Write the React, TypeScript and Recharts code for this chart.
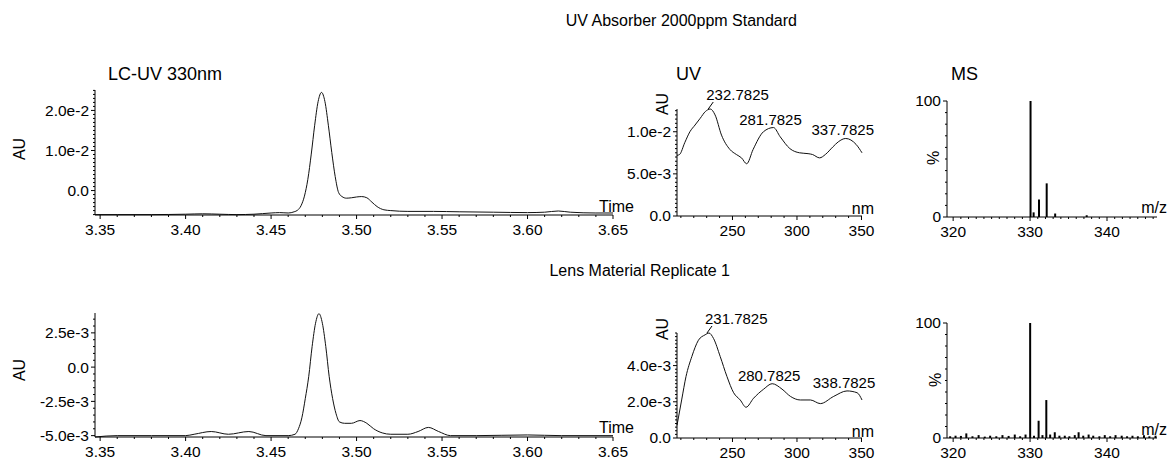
import React from "react";
import { LineChart, Line, BarChart, Bar, XAxis, YAxis } from "recharts";

// LC-UV 330nm, standard
const lcStdTime = [3.347, 3.36, 3.38, 3.4, 3.41, 3.42, 3.43, 3.44, 3.45, 3.455, 3.46, 3.4635, 3.4655, 3.4675, 3.4695, 3.4715, 3.4735, 3.4755, 3.4775, 3.4795, 3.4815, 3.4835, 3.4855, 3.4875, 3.4895, 3.4915, 3.494, 3.497, 3.5, 3.503, 3.506, 3.509, 3.512, 3.516, 3.52, 3.53, 3.545, 3.56, 3.58, 3.6, 3.61, 3.618, 3.625, 3.64, 3.65];
const lcStdAU = [-0.006, -0.006, -0.006, -0.0059, -0.0058, -0.0059, -0.006, -0.0059, -0.0056, -0.0055, -0.0056, -0.0053, -0.0049, -0.0038, -0.0014, 0.0028, 0.0091, 0.0163, 0.0222, 0.0245, 0.0222, 0.0163, 0.0095, 0.0035, -0.0005, -0.0015, -0.0019, -0.0018, -0.0016, -0.0015, -0.0018, -0.0029, -0.004, -0.0048, -0.005, -0.0052, -0.0052, -0.0053, -0.0054, -0.0055, -0.0054, -0.0051, -0.0054, -0.0056, -0.0056];

// LC-UV 330nm, lens replicate 1
const lcLensTime = [3.347, 3.36, 3.38, 3.4, 3.405, 3.415, 3.425, 3.437, 3.447, 3.46, 3.464, 3.466, 3.468, 3.47, 3.472, 3.474, 3.476, 3.478, 3.48, 3.482, 3.484, 3.486, 3.488, 3.49, 3.493, 3.497, 3.502, 3.506, 3.51, 3.515, 3.52, 3.53, 3.536, 3.542, 3.548, 3.555, 3.57, 3.6, 3.62, 3.65];
const lcLensAU = [-0.0051, -0.005, -0.005, -0.005, -0.0049, -0.0047, -0.0049, -0.0047, -0.005, -0.005, -0.0049, -0.0045, -0.0037, -0.0023, -0.0007, 0.0015, 0.0032, 0.0039, 0.0032, 0.0015, -0.0007, -0.0023, -0.0034, -0.004, -0.0041, -0.0041, -0.0039, -0.0041, -0.0045, -0.0048, -0.0049, -0.0049, -0.0047, -0.0044, -0.0047, -0.005, -0.005, -0.00495, -0.005, -0.005];

// UV spectra
const uvStdNm = [207, 209, 213, 217, 221, 225, 229, 232.7825, 236.5, 241.5, 248, 253, 257, 261, 266, 274, 281.7825, 287, 294.5, 302, 308.6, 312, 317.5, 322, 327.8, 332, 337.7825, 345.8, 350.4];
const uvStdAU = [0.0072, 0.0073, 0.0087, 0.01, 0.0108, 0.0116, 0.0124, 0.0127, 0.012, 0.0096, 0.0079, 0.0073, 0.0069, 0.0062, 0.0079, 0.01, 0.0105, 0.0094, 0.008, 0.0075, 0.0074, 0.0073, 0.0069, 0.0073, 0.0082, 0.0088, 0.0092, 0.0085, 0.0075];
const uvStdPeaks = [232.7825, 281.7825, 337.7825];

const uvLensNm = [207, 210.6, 214, 218.5, 223.6, 228.8, 231.7825, 235.3, 240.5, 245.7, 250.9, 256, 260.5, 266.4, 274.2, 280.7825, 288.4, 294.9, 302.6, 310.4, 318.1, 328.5, 338.7825, 346.6, 350.4];
const uvLensAU = [0.0007, 0.0021, 0.0034, 0.0045, 0.0054, 0.0057, 0.0058, 0.0055, 0.0045, 0.0034, 0.0025, 0.0021, 0.0017, 0.0022, 0.0027, 0.003, 0.0027, 0.0023, 0.0021, 0.0021, 0.0019, 0.0023, 0.0026, 0.0025, 0.0021];
const uvLensPeaks = [231.7825, 280.7825, 338.7825];

// MS spectra
const msStdMz = [330.0, 330.4, 331.1, 332.1, 333.2, 337.3];
const msStdPct = [100, 4, 15, 29, 3, 1.5];

const msLensMz = [319.6, 320.3, 321, 321.7, 322.5, 323.3, 324.1, 324.8, 325.6, 326.4, 327.2, 328, 328.7, 329.4, 330.0, 330.5, 331.1, 331.6, 332.1, 332.6, 333.2, 333.8, 334.5, 335.1, 335.8, 336.3, 336.9, 337.6, 338.2, 339, 339.7, 340.4, 341.1, 341.9, 342.6, 343.3, 344, 344.8, 345.5, 346.3];
const msLensPct = [1.5, 2, 1.8, 4, 1.5, 2.5, 1.2, 2, 1.5, 2.5, 1.8, 3, 1.5, 3, 100, 2, 15, 2.5, 33, 3, 5, 2, 2, 1.5, 2.5, 5, 2, 3, 2, 1.5, 2.5, 1.5, 2.5, 2, 1.5, 2, 1.5, 2.5, 1.5, 2];

// tick labels
const lcTimeTicks = [3.35, 3.4, 3.45, 3.5, 3.55, 3.6, 3.65];
const lcStdTicks = [0, 0.01, 0.02];
const lcLensTicks = [-0.005, -0.0025, 0, 0.0025];
const uvNmTicks = [250, 300, 350];
const uvStdTicks = [0, 0.005, 0.01];
const uvLensTicks = [0, 0.002, 0.004];
const mzTicks = [320, 330, 340];
const pctTicks = [0, 100];

const FONT = "Arial, 'Liberation Sans', Helvetica, sans-serif";
const YW = 70;
const XH = 30;
const MT = 30;
const MR = 40;

type Pt = { x: number; y: number };
const zip = (xs: number[], ys: number[]): Pt[] => xs.map((x, i) => ({ x, y: ys[i] }));

const steps = (a: number, b: number, s: number) => {
  const out: number[] = [];
  for (let k = Math.ceil(a / s - 1e-9); k * s <= b + 1e-9; k++) out.push(parseFloat((k * s).toFixed(10)));
  return out;
};
const near = (list: number[], v: number) => list.some((m) => Math.abs(m - v) < 1e-9);

const fixed2 = (v: number) => v.toFixed(2);
const expo = (v: number) => (Math.abs(v) < 1e-12 ? "0.0" : v.toExponential(1));
const plain = (v: number) => String(Math.round(v));

type PanelProps = {
  rect: [number, number, number, number];
  data: Pt[];
  kind: "line" | "bar";
  xDomain: [number, number];
  yDomain: [number, number];
  xMajor: number[];
  xMinor: number;
  yMajor: number[];
  yMinor: number;
  xFmt: (v: number) => string;
  yFmt: (v: number) => string;
  peaks?: number[];
};

function Panel(p: PanelProps) {
  const [x0, y0, x1, y1] = p.rect;
  const w = x1 - x0;
  const h = y1 - y0;
  const width = w + YW + MR;
  const height = h + MT + XH;
  const axisY = MT + h;
  const axisX = YW;

  const xTicks = steps(p.xDomain[0], p.xDomain[1], p.xMinor);
  const yTicks = steps(p.yDomain[0], p.yDomain[1], p.yMinor);

  const xTick = (t: any) => {
    const v = t.payload.value;
    const major = near(p.xMajor, v);
    return (
      <g key={`xt${t.index}`}>
        <line x1={t.x} x2={t.x} y1={axisY} y2={axisY + (major ? 4 : 2)} stroke="#000" />
        {major && (
          <text x={t.x} y={axisY + 19.5} textAnchor="middle" fontSize={15.5} fill="#000" fontFamily={FONT}>
            {p.xFmt(v)}
          </text>
        )}
      </g>
    );
  };
  const yTick = (t: any) => {
    const v = t.payload.value;
    const major = near(p.yMajor, v);
    return (
      <g key={`yt${t.index}`}>
        <line x1={axisX} x2={axisX - (major ? 4 : 2)} y1={t.y} y2={t.y} stroke="#000" />
        {major && (
          <text x={axisX - 6} y={t.y} dy="0.35em" textAnchor="end" fontSize={15.5} fill="#000" fontFamily={FONT}>
            {p.yFmt(v)}
          </text>
        )}
      </g>
    );
  };

  const peakDot = (d: any) => {
    const { cx, cy, payload, index } = d;
    const k = p.peaks ? p.peaks.findIndex((v) => Math.abs(v - payload.x) < 1e-6) : -1;
    if (k < 0) return <g key={`d${index}`} />;
    const label = payload.x.toFixed(4);
    if (k === 0)
      return (
        <g key={`d${index}`}>
          <line x1={cx - 2} y1={cy} x2={cx + 3} y2={cy - 7} stroke="#000" />
          <text x={cx - 4} y={cy - 9} fontSize={15} fill="#000" fontFamily={FONT}>
            {label}
          </text>
        </g>
      );
    return (
      <text key={`d${index}`} x={cx - 3} y={cy - 3} textAnchor="middle" fontSize={15} fill="#000" fontFamily={FONT}>
        {label}
      </text>
    );
  };

  const xAxis = (
    <XAxis
      type="number"
      dataKey="x"
      domain={p.xDomain}
      ticks={xTicks}
      interval={0}
      tick={xTick}
      tickLine={false}
      axisLine={{ stroke: "#000" }}
      height={XH}
    />
  );
  const yAxis = (
    <YAxis
      type="number"
      domain={p.yDomain}
      ticks={yTicks}
      interval={0}
      tick={yTick}
      tickLine={false}
      axisLine={{ stroke: "#000" }}
      width={YW}
    />
  );
  const margin = { top: MT, right: MR, bottom: 0, left: 0 };

  return (
    <div style={{ position: "absolute", left: x0 - YW, top: y0 - MT }}>
      {p.kind === "line" ? (
        <LineChart width={width} height={height} data={p.data} margin={margin}>
          {xAxis}
          {yAxis}
          <Line
            type="monotone"
            dataKey="y"
            stroke="#111"
            strokeWidth={1}
            dot={p.peaks ? peakDot : false}
            activeDot={false}
            isAnimationActive={false}
          />
        </LineChart>
      ) : (
        <BarChart width={width} height={height} data={p.data} margin={margin}>
          {xAxis}
          {yAxis}
          <Bar dataKey="y" fill="#000" barSize={2} isAnimationActive={false} />
        </BarChart>
      )}
    </div>
  );
}

const T = (props: any) => <text fontFamily={FONT} fill="#000" {...props} />;

export default function App() {
  return (
    <div
      style={{
        position: "absolute",
        left: 0,
        top: 0,
        width: 1171,
        height: 459,
        background: "#fff",
        fontFamily: FONT,
        overflow: "hidden",
      }}
    >
      <Panel rect={[95, 90, 613, 215]} data={zip(lcStdTime, lcStdAU)} kind="line" xDomain={[3.347, 3.65]} yDomain={[-0.0061, 0.0251]} xMajor={lcTimeTicks} xMinor={0.01} yMajor={lcStdTicks} yMinor={0.001} xFmt={fixed2} yFmt={expo} />
      <Panel rect={[677, 109, 862, 216]} data={zip(uvStdNm, uvStdAU)} kind="line" xDomain={[207, 350.4]} yDomain={[0, 0.0127]} xMajor={uvNmTicks} xMinor={10} yMajor={uvStdTicks} yMinor={0.0005} xFmt={plain} yFmt={expo} peaks={uvStdPeaks} />
      <Panel rect={[947, 101, 1157, 217]} data={zip(msStdMz, msStdPct)} kind="bar" xDomain={[319.2, 346.5]} yDomain={[0, 100]} xMajor={mzTicks} xMinor={1} yMajor={pctTicks} yMinor={10} xFmt={plain} yFmt={plain} />

      <Panel rect={[95, 313, 613, 437]} data={zip(lcLensTime, lcLensAU)} kind="line" xDomain={[3.347, 3.65]} yDomain={[-0.0051, 0.00395]} xMajor={lcTimeTicks} xMinor={0.01} yMajor={lcLensTicks} yMinor={0.0005} xFmt={fixed2} yFmt={expo} />
      <Panel rect={[677, 333, 862, 438]} data={zip(uvLensNm, uvLensAU)} kind="line" xDomain={[207, 350.4]} yDomain={[0, 0.0058]} xMajor={uvNmTicks} xMinor={10} yMajor={uvLensTicks} yMinor={0.0002} xFmt={plain} yFmt={expo} peaks={uvLensPeaks} />
      <Panel rect={[947, 323, 1157, 438]} data={zip(msLensMz, msLensPct)} kind="bar" xDomain={[319.2, 346.5]} yDomain={[0, 100]} xMajor={mzTicks} xMinor={1} yMajor={pctTicks} yMinor={10} xFmt={plain} yFmt={plain} />

      <svg width={1171} height={459} style={{ position: "absolute", left: 0, top: 0, pointerEvents: "none" }}>
        <T x={797} y={26} textAnchor="end" fontSize={16}>UV Absorber 2000ppm Standard</T>
        <T x={730} y={276} textAnchor="end" fontSize={16}>Lens Material Replicate 1</T>

        <T x={108} y={80} fontSize={18}>LC-UV 330nm</T>
        <T x={676} y={80} fontSize={18}>UV</T>
        <T x={951} y={80} fontSize={18}>MS</T>

        <T x={0} y={0} fontSize={16} textAnchor="middle" transform="translate(25 149) rotate(-90)">AU</T>
        <T x={0} y={0} fontSize={16} textAnchor="middle" transform="translate(25 370) rotate(-90)">AU</T>
        <T x={0} y={0} fontSize={16} textAnchor="middle" transform="translate(668 104) rotate(-90)">AU</T>
        <T x={0} y={0} fontSize={16} textAnchor="middle" transform="translate(668 329) rotate(-90)">AU</T>
        <T x={0} y={0} fontSize={16} textAnchor="middle" transform="translate(939 158) rotate(-90)">%</T>
        <T x={0} y={0} fontSize={16} textAnchor="middle" transform="translate(941 380) rotate(-90)">%</T>

        <T x={634} y={212} textAnchor="end" fontSize={16}>Time</T>
        <T x={634} y={433} textAnchor="end" fontSize={16}>Time</T>
        <T x={874} y={214} textAnchor="end" fontSize={16}>nm</T>
        <T x={874} y={437} textAnchor="end" fontSize={16}>nm</T>
        <T x={1167} y={213} textAnchor="end" fontSize={16}>m/z</T>
        <T x={1167} y={435} textAnchor="end" fontSize={16}>m/z</T>
      </svg>
    </div>
  );
}
